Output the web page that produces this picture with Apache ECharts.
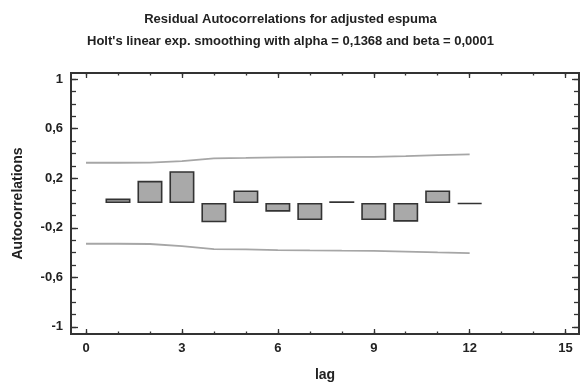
<!DOCTYPE html>
<html>
<head>
<meta charset="utf-8">
<script src="https://cdn.jsdelivr.net/npm/echarts@6/dist/echarts.min.js"></script>
<style>
html,body{margin:0;padding:0;background:#fff;}
#c{width:581px;height:387px;}
</style>
</head>
<body>
<div id="c"></div>
<script>
const titleLines = ["Residual Autocorrelations for adjusted espuma", "Holt's linear exp. smoothing with alpha = 0,1368 and beta = 0,0001"];
const xName = "lag";
const yName = "Autocorrelations";
const lags = [1, 2, 3, 4, 5, 6, 7, 8, 9, 10, 11, 12];
const acf = [0.036, 0.179, 0.257, -0.156, 0.101, -0.070, -0.138, 0.014, -0.138, -0.151, 0.101, -0.008];
const limitLags = [0, 1, 2, 3, 4, 5, 6, 7, 8, 9, 10, 11, 12];
const upperLimit = [0.325, 0.325, 0.326, 0.338, 0.361, 0.364, 0.368, 0.370, 0.372, 0.373, 0.378, 0.386, 0.392];
const lowerLimit = [-0.329, -0.329, -0.331, -0.348, -0.372, -0.375, -0.380, -0.383, -0.385, -0.386, -0.392, -0.399, -0.405];
const xMajorTicks = [0, 3, 6, 9, 12, 15];
const xMinorTicks = [0, 1, 2, 3, 4, 5, 6, 7, 8, 9, 10, 11, 12, 13, 14, 15];
const yMajorTicks = [-1, -0.6, -0.2, 0.2, 0.6, 1];
const yMinorTicks = [-1, -0.9, -0.8, -0.7, -0.6, -0.5, -0.4, -0.3, -0.2, -0.1, 0, 0.1, 0.2, 0.3, 0.4, 0.5, 0.6, 0.7, 0.8, 0.9, 1];

const FONT = "'Liberation Sans', Arial, sans-serif";
const TXT = '#222';
const xMin = -0.47, xMax = 15.42, yMin = -1.058, yMax = 1.05;

function xAx(pos, ticks, len, labels) {
  return {
    type: 'value', position: pos, min: xMin, max: xMax,
    axisLine: { show: false, onZero: false }, splitLine: { show: false },
    axisTick: { show: true, inside: true, length: len, customValues: ticks, lineStyle: { color: '#333', width: 1.3 } },
    axisLabel: labels ? { show: true, customValues: xMajorTicks, margin: 8, color: TXT, fontFamily: FONT, fontWeight: 'bold', fontSize: 13 } : { show: false },
    name: labels ? xName : '', nameLocation: 'middle', nameGap: 34,
    nameTextStyle: { color: TXT, fontFamily: FONT, fontWeight: 'bold', fontSize: 14 }
  };
}
function yAx(pos, ticks, len, labels) {
  return {
    type: 'value', position: pos, min: yMin, max: yMax,
    axisLine: { show: false, onZero: false }, splitLine: { show: false },
    axisTick: { show: true, inside: true, length: len, customValues: ticks, lineStyle: { color: '#333', width: 1.3 } },
    axisLabel: labels ? { show: true, customValues: yMajorTicks, margin: 8, color: TXT, fontFamily: FONT, fontWeight: 'bold', fontSize: 13,
      formatter: v => String(Math.round(v * 10) / 10).replace('.', ',') } : { show: false },
    name: labels ? yName : '', nameLocation: 'middle', nameGap: 46, nameRotate: 90,
    nameTextStyle: { color: TXT, fontFamily: FONT, fontWeight: 'bold', fontSize: 14 }
  };
}

const chart = echarts.init(document.getElementById('c'), null, { renderer: 'canvas' });
chart.setOption({
  animation: false,
  backgroundColor: '#fff',
  title: {
    text: titleLines.join('\n'), left: 'center', top: 3,
    textStyle: { color: TXT, fontFamily: FONT, fontWeight: 'bold', fontSize: 13, lineHeight: 22 }
  },
  grid: { left: 71, right: 2, top: 73, bottom: 44, show: true, borderColor: '#333', borderWidth: 2, backgroundColor: 'transparent' },
  xAxis: [
    xAx('bottom', xMajorTicks, 5, true),
    xAx('bottom', xMinorTicks, 2.5, false),
    xAx('top', xMajorTicks, 5, false),
    xAx('top', xMinorTicks, 2.5, false)
  ],
  yAxis: [
    yAx('left', yMajorTicks, 7, true),
    yAx('left', yMinorTicks, 5, false),
    yAx('right', yMajorTicks, 7, false),
    yAx('right', yMinorTicks, 5, false)
  ],
  series: [
    {
      type: 'bar', xAxisIndex: 0, yAxisIndex: 0, barWidth: 25,
      data: lags.map((l, i) => [l, acf[i]]),
      itemStyle: { color: '#a9a9a9', borderColor: '#333', borderWidth: 1.6 }
    },
    {
      type: 'line', xAxisIndex: 0, yAxisIndex: 0, symbol: 'none',
      data: limitLags.map((l, i) => [l, upperLimit[i]]),
      lineStyle: { color: '#a6a6a6', width: 1.8 }
    },
    {
      type: 'line', xAxisIndex: 0, yAxisIndex: 0, symbol: 'none',
      data: limitLags.map((l, i) => [l, lowerLimit[i]]),
      lineStyle: { color: '#a6a6a6', width: 1.8 }
    }
  ]
});
</script>
</body>
</html>
